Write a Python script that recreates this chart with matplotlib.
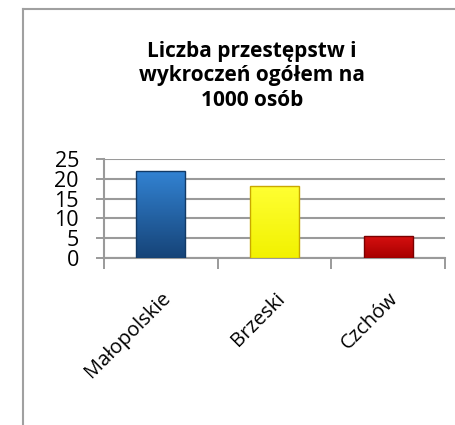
#!/usr/bin/env python3
"""Bar chart: Liczba przestepstw i wykroczen na 1000 osob."""

import matplotlib

matplotlib.use("Agg")

import matplotlib.pyplot as plt
from matplotlib.colors import LinearSegmentedColormap
from matplotlib.lines import Line2D
import numpy as np

CATEGORIES = ["Małopolskie", "Brzeski", "Czchów"]
VALUES = [21.9, 18.2, 5.6]
BAR_TOP_COLORS = ["#3282d2", "#ffff33", "#d81010"]
BAR_BOTTOM_COLORS = ["#164478", "#f2f200", "#a80000"]
EDGE_COLORS = ["#123a66", "#c9a800", "#7a0000"]
Y_TICKS = [0, 5, 10, 15, 20, 25]
TITLE = "Liczba przestępstw i\nwykroczeń ogółem na\n1000 osób"

GRID = "#9a9a9a"
BAR_WIDTH = 0.43


def main() -> None:
    plt.rcParams["font.family"] = ["Open Sans", "DejaVu Sans"]
    fig = plt.figure(figsize=(4.56, 4.25), dpi=100)
    ax = fig.add_axes([104 / 456, 1 - 258 / 425, (445 - 104) / 456, 99 / 425])

    x = np.arange(len(CATEGORIES))
    bars = ax.bar(x, VALUES, width=BAR_WIDTH, color="none", edgecolor=EDGE_COLORS,
                  linewidth=1.0, zorder=4)
    # vertical gradient fill clipped to each bar
    for bar, top, bottom in zip(bars, BAR_TOP_COLORS, BAR_BOTTOM_COLORS):
        cmap = LinearSegmentedColormap.from_list("bar", [bottom, top])
        x0, w, h = bar.get_x(), bar.get_width(), bar.get_height()
        grad = np.linspace(0, 1, 64).reshape(-1, 1)
        img = ax.imshow(grad, cmap=cmap, origin="lower", aspect="auto",
                        extent=(x0, x0 + w, 0, h), zorder=3)
        img.set_clip_path(bar)

    ax.set_xlim(-0.5, len(CATEGORIES) - 0.5)
    ax.set_ylim(0, 25)
    ax.set_yticks(Y_TICKS)
    ax.set_yticklabels([str(t) for t in Y_TICKS], fontsize=15.5)
    ax.tick_params(axis="y", length=6, width=1.4, color=GRID, pad=12)
    ax.yaxis.grid(True, color=GRID, linewidth=1.5, zorder=0)
    ax.set_axisbelow(True)

    ax.set_xticks(x)
    ax.set_xticklabels(CATEGORIES, rotation=45, ha="right", rotation_mode="anchor",
                       fontsize=14.5)
    ax.tick_params(axis="x", which="major", length=0, pad=22)
    ax.set_xticks(np.arange(-0.5, len(CATEGORIES)), minor=True)
    ax.tick_params(axis="x", which="minor", length=8, width=1.4, color=GRID)

    for side in ["top", "right"]:
        ax.spines[side].set_visible(False)
    for side in ["left", "bottom"]:
        ax.spines[side].set_color(GRID)
        ax.spines[side].set_linewidth(1.5)

    fig.text(252 / 456, 1 - 76 / 425, TITLE, ha="center", va="center",
             fontsize=15, fontweight="bold", linespacing=1.2)

    # chart frame (left and top edges visible in the crop)
    fig.add_artist(Line2D([23 / 456, 23 / 456], [0, 1 - 9 / 425],
                          transform=fig.transFigure, color="#a0a0a0", linewidth=1.5))
    fig.add_artist(Line2D([23 / 456, 1], [1 - 9 / 425, 1 - 9 / 425],
                          transform=fig.transFigure, color="#a0a0a0", linewidth=1.5))

    fig.savefig("out.png", dpi=100)


if __name__ == "__main__":
    main()
